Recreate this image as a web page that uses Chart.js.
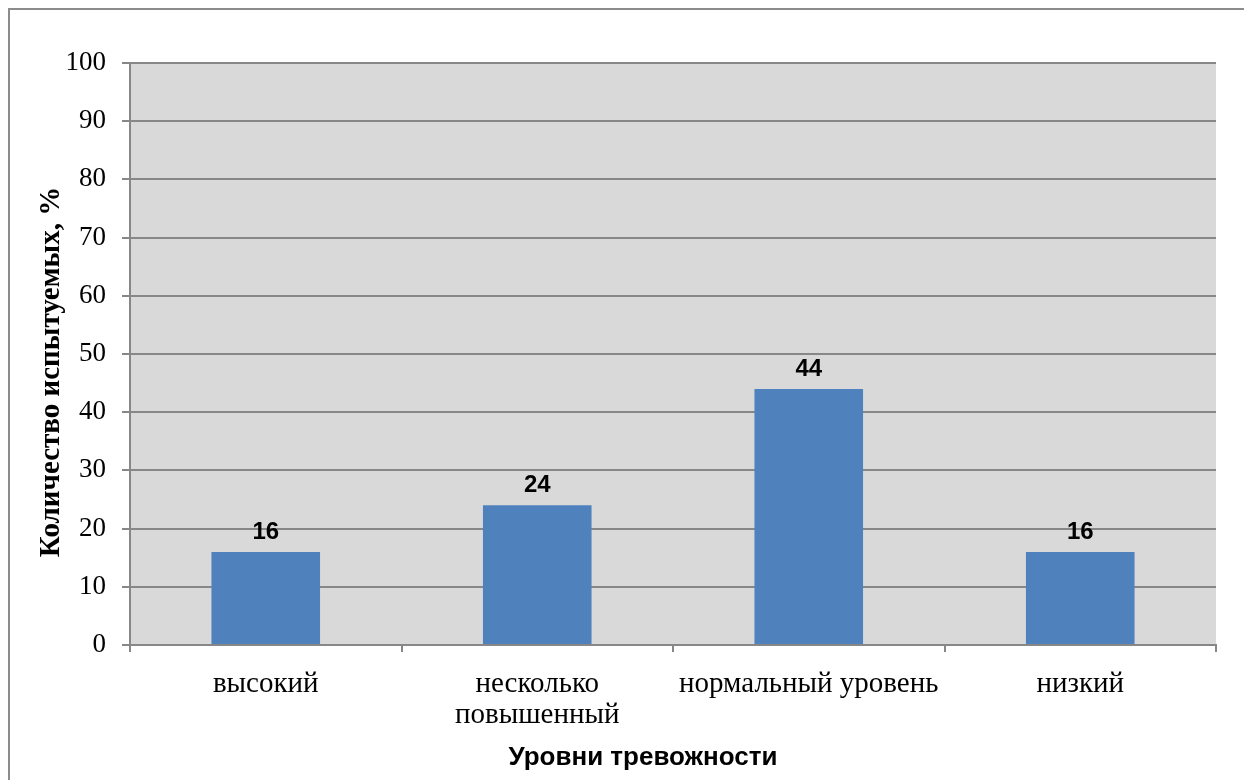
<!DOCTYPE html>
<html>
<head>
<meta charset="utf-8">
<script src="https://cdn.jsdelivr.net/npm/chart.js@4"></script>
<style>
  html, body { margin: 0; padding: 0; background: #fff; }
  #wrap { width: 1244px; height: 780px; position: relative; }
</style>
</head>
<body>
<div id="wrap"><canvas id="myChart" width="1244" height="780"></canvas></div>
<script>
// data
const categories = ['высокий', ['несколько', 'повышенный'], 'нормальный уровень', 'низкий'];
const percentValues = [16, 24, 44, 16];
const yTitle = 'Количество испытуемых, %';
const xTitle = 'Уровни тревожности';

const gridColor = '#878787';

// gray plot background, outer frame, value labels and axis titles
const decorPlugin = {
  id: 'decor',
  beforeDraw(chart) {
    const { ctx, chartArea: a } = chart;
    ctx.save();
    ctx.fillStyle = '#fff';
    ctx.fillRect(0, 0, chart.width, chart.height);
    ctx.strokeStyle = '#8c8c8c';
    ctx.lineWidth = 2;
    ctx.strokeRect(9, 9, 1250, 800);
    ctx.fillStyle = '#d9d9d9';
    ctx.fillRect(a.left, a.top, a.right - a.left, a.bottom - a.top);
    ctx.restore();
  },
  afterDatasetsDraw(chart) {
    const { ctx } = chart;
    const meta = chart.getDatasetMeta(0);
    ctx.save();
    ctx.fillStyle = '#000';
    ctx.font = 'bold 24px "Liberation Sans", Arial, sans-serif';
    ctx.textAlign = 'center';
    ctx.textBaseline = 'bottom';
    meta.data.forEach((bar, i) => {
      ctx.fillText(String(percentValues[i]), bar.x, bar.y - 8);
    });
    ctx.restore();
  },
  afterDraw(chart) {
    const { ctx } = chart;
    ctx.save();
    ctx.fillStyle = '#000';
    ctx.textAlign = 'center';
    ctx.textBaseline = 'middle';
    ctx.font = 'bold 26px "Liberation Sans", Arial, sans-serif';
    ctx.fillText(xTitle, 643, 758);
    ctx.translate(52, 372);
    ctx.rotate(-Math.PI / 2);
    ctx.font = 'bold 29px "Liberation Serif", "Times New Roman", serif';
    ctx.fillText(yTitle, 0, 0);
    ctx.restore();
  }
};

new Chart(document.getElementById('myChart').getContext('2d'), {
  type: 'bar',
  data: {
    labels: categories,
    datasets: [{
      data: percentValues,
      backgroundColor: '#4f81bd',
      borderWidth: 0,
      barPercentage: 0.4,
      categoryPercentage: 1.0
    }]
  },
  options: {
    responsive: false,
    animation: false,
    devicePixelRatio: 1,
    layout: { padding: { left: 0, right: 28, top: 63, bottom: 0 } },
    plugins: {
      legend: { display: false },
      tooltip: { enabled: false }
    },
    scales: {
      x: {
        afterFit(scale) { scale.height = 135; },
        grid: {
          display: true,
          drawOnChartArea: false,
          offset: true,
          color: gridColor,
          lineWidth: 2,
          tickLength: 7
        },
        border: { color: gridColor, width: 2 },
        ticks: {
          color: '#000',
          padding: 17,
          maxRotation: 0,
          autoSkip: false,
          font: { family: '"Liberation Serif", "Times New Roman", serif', size: 29, lineHeight: 1.07 }
        }
      },
      y: {
        min: 0,
        max: 100,
        afterFit(scale) { scale.width = 130; },
        grid: {
          color: gridColor,
          lineWidth: 2,
          tickLength: 8
        },
        border: { color: gridColor, width: 2 },
        ticks: {
          stepSize: 10,
          color: '#000',
          padding: 16,
          font: { family: '"Liberation Serif", "Times New Roman", serif', size: 27 }
        }
      }
    }
  },
  plugins: [decorPlugin]
});
</script>
</body>
</html>
